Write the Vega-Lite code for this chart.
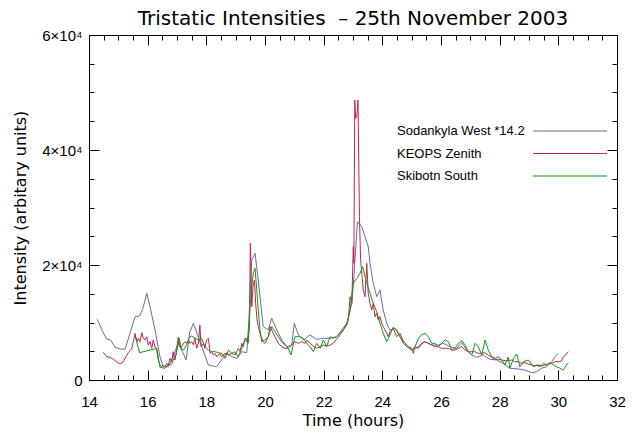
{
"$schema":"https://vega.github.io/schema/vega-lite/v6.json",
"width":528,"height":345,
"autosize":{"type":"none"},
"padding":{"left":89,"top":35,"right":15,"bottom":55},
"background":"white",
"title":{"text":"Tristatic Intensities \u00a0– 25th November 2003","font":"DejaVu Sans","fontSize":20,"fontWeight":"normal","color":"black","anchor":"middle","offset":-1},
"config":{
 "view":{"stroke":"black","strokeWidth":1},
 "axis":{"domainColor":"black","domainWidth":1,"tickColor":"black","tickWidth":1,"labelColor":"black","titleColor":"black","labelFont":"Liberation Sans","titleFont":"DejaVu Sans","labelFontSize":15,"titleFontSize":16,"titleFontWeight":"normal","grid":false,"labelOverlap":false,"labelFlush":false,"labelBound":false}
},
"data":{"values":[
{"s":"Sodankyla West *14.2","t":14.28,"v":10560},{"s":"Sodankyla West *14.2","t":14.47,"v":8400},{"s":"Sodankyla West *14.2","t":14.6,"v":7130},{"s":"Sodankyla West *14.2","t":14.74,"v":6960},{"s":"Sodankyla West *14.2","t":14.89,"v":5690},{"s":"Sodankyla West *14.2","t":15.06,"v":5390},{"s":"Sodankyla West *14.2","t":15.23,"v":5340},{"s":"Sodankyla West *14.2","t":15.4,"v":8170},{"s":"Sodankyla West *14.2","t":15.57,"v":11010},{"s":"Sodankyla West *14.2","t":15.72,"v":11130},{"s":"Sodankyla West *14.2","t":15.83,"v":12300},{"s":"Sodankyla West *14.2","t":15.97,"v":15080},{"s":"Sodankyla West *14.2","t":16.08,"v":12750},{"s":"Sodankyla West *14.2","t":16.25,"v":8700},{"s":"Sodankyla West *14.2","t":16.42,"v":4050},{"s":"Sodankyla West *14.2","t":16.53,"v":2310},{"s":"Sodankyla West *14.2","t":16.7,"v":2310},{"s":"Sodankyla West *14.2","t":16.87,"v":4050},{"s":"Sodankyla West *14.2","t":17.04,"v":6430},{"s":"Sodankyla West *14.2","t":17.16,"v":5220},{"s":"Sodankyla West *14.2","t":17.31,"v":3480},{"s":"Sodankyla West *14.2","t":17.44,"v":8400},{"s":"Sodankyla West *14.2","t":17.56,"v":9860},{"s":"Sodankyla West *14.2","t":17.76,"v":7000},{"s":"Sodankyla West *14.2","t":18.07,"v":2610},{"s":"Sodankyla West *14.2","t":18.35,"v":2310},{"s":"Sodankyla West *14.2","t":18.52,"v":3480},{"s":"Sodankyla West *14.2","t":18.69,"v":4750},{"s":"Sodankyla West *14.2","t":18.87,"v":4050},{"s":"Sodankyla West *14.2","t":19.04,"v":3770},{"s":"Sodankyla West *14.2","t":19.21,"v":4920},{"s":"Sodankyla West *14.2","t":19.38,"v":4750},{"s":"Sodankyla West *14.2","t":19.45,"v":10430},{"s":"Sodankyla West *14.2","t":19.55,"v":20870},{"s":"Sodankyla West *14.2","t":19.66,"v":22030},{"s":"Sodankyla West *14.2","t":19.77,"v":17390},{"s":"Sodankyla West *14.2","t":19.94,"v":9270},{"s":"Sodankyla West *14.2","t":20.11,"v":8700},{"s":"Sodankyla West *14.2","t":20.23,"v":10730},{"s":"Sodankyla West *14.2","t":20.4,"v":8700},{"s":"Sodankyla West *14.2","t":20.57,"v":6960},{"s":"Sodankyla West *14.2","t":20.74,"v":5790},{"s":"Sodankyla West *14.2","t":20.91,"v":6090},{"s":"Sodankyla West *14.2","t":21.0,"v":9860},{"s":"Sodankyla West *14.2","t":21.14,"v":7830},{"s":"Sodankyla West *14.2","t":21.31,"v":6960},{"s":"Sodankyla West *14.2","t":21.53,"v":7830},{"s":"Sodankyla West *14.2","t":21.76,"v":7080},{"s":"Sodankyla West *14.2","t":21.99,"v":7250},{"s":"Sodankyla West *14.2","t":22.22,"v":7250},{"s":"Sodankyla West *14.2","t":22.44,"v":7530},{"s":"Sodankyla West *14.2","t":22.62,"v":8700},{"s":"Sodankyla West *14.2","t":22.79,"v":9860},{"s":"Sodankyla West *14.2","t":22.96,"v":13340},{"s":"Sodankyla West *14.2","t":23.03,"v":17960},{"s":"Sodankyla West *14.2","t":23.15,"v":27530},{"s":"Sodankyla West *14.2","t":23.3,"v":26660},{"s":"Sodankyla West *14.2","t":23.41,"v":24920},{"s":"Sodankyla West *14.2","t":23.52,"v":23180},{"s":"Sodankyla West *14.2","t":23.58,"v":20290},{"s":"Sodankyla West *14.2","t":23.69,"v":16820},{"s":"Sodankyla West *14.2","t":23.81,"v":14490},{"s":"Sodankyla West *14.2","t":23.92,"v":15650},{"s":"Sodankyla West *14.2","t":24.03,"v":12170},{"s":"Sodankyla West *14.2","t":24.15,"v":9860},{"s":"Sodankyla West *14.2","t":24.26,"v":8700},{"s":"Sodankyla West *14.2","t":24.43,"v":8990},{"s":"Sodankyla West *14.2","t":24.6,"v":7530},{"s":"Sodankyla West *14.2","t":24.83,"v":6090},{"s":"Sodankyla West *14.2","t":25.0,"v":5220},{"s":"Sodankyla West *14.2","t":25.23,"v":5790},{"s":"Sodankyla West *14.2","t":25.45,"v":6660},{"s":"Sodankyla West *14.2","t":25.68,"v":6090},{"s":"Sodankyla West *14.2","t":25.91,"v":6090},{"s":"Sodankyla West *14.2","t":26.08,"v":6380},{"s":"Sodankyla West *14.2","t":26.31,"v":5790},{"s":"Sodankyla West *14.2","t":26.54,"v":5510},{"s":"Sodankyla West *14.2","t":26.71,"v":6490},{"s":"Sodankyla West *14.2","t":26.88,"v":5220},{"s":"Sodankyla West *14.2","t":27.05,"v":4350},{"s":"Sodankyla West *14.2","t":27.22,"v":3950},{"s":"Sodankyla West *14.2","t":27.44,"v":4350},{"s":"Sodankyla West *14.2","t":27.67,"v":3600},{"s":"Sodankyla West *14.2","t":27.9,"v":3480},{"s":"Sodankyla West *14.2","t":28.12,"v":2900},{"s":"Sodankyla West *14.2","t":28.35,"v":2040},{"s":"Sodankyla West *14.2","t":28.64,"v":1910},{"s":"Sodankyla West *14.2","t":28.86,"v":1740},{"s":"Sodankyla West *14.2","t":29.09,"v":1270},{"s":"Sodankyla West *14.2","t":29.26,"v":1440},{"s":"Sodankyla West *14.2","t":29.43,"v":2040},{"s":"Sodankyla West *14.2","t":29.6,"v":2310},{"s":"Sodankyla West *14.2","t":29.77,"v":3180},{"s":"Sodankyla West *14.2","t":29.89,"v":4050},{"s":"Sodankyla West *14.2","t":30.0,"v":4640},
{"s":"KEOPS Zenith","t":14.49,"v":4820},{"s":"KEOPS Zenith","t":14.6,"v":4050},{"s":"KEOPS Zenith","t":14.72,"v":3950},{"s":"KEOPS Zenith","t":14.83,"v":3600},{"s":"KEOPS Zenith","t":14.94,"v":3180},{"s":"KEOPS Zenith","t":15.06,"v":2780},{"s":"KEOPS Zenith","t":15.17,"v":3180},{"s":"KEOPS Zenith","t":15.23,"v":3770},{"s":"KEOPS Zenith","t":15.34,"v":4750},{"s":"KEOPS Zenith","t":15.4,"v":5100},{"s":"KEOPS Zenith","t":15.46,"v":5510},{"s":"KEOPS Zenith","t":15.51,"v":6660},{"s":"KEOPS Zenith","t":15.57,"v":8120},{"s":"KEOPS Zenith","t":15.63,"v":6660},{"s":"KEOPS Zenith","t":15.68,"v":7250},{"s":"KEOPS Zenith","t":15.74,"v":6660},{"s":"KEOPS Zenith","t":15.8,"v":8230},{"s":"KEOPS Zenith","t":15.85,"v":7250},{"s":"KEOPS Zenith","t":15.91,"v":6960},{"s":"KEOPS Zenith","t":15.97,"v":7530},{"s":"KEOPS Zenith","t":16.02,"v":6090},{"s":"KEOPS Zenith","t":16.08,"v":6660},{"s":"KEOPS Zenith","t":16.14,"v":5510},{"s":"KEOPS Zenith","t":16.19,"v":6960},{"s":"KEOPS Zenith","t":16.25,"v":5790},{"s":"KEOPS Zenith","t":16.31,"v":5220},{"s":"KEOPS Zenith","t":16.36,"v":3480},{"s":"KEOPS Zenith","t":16.42,"v":2610},{"s":"KEOPS Zenith","t":16.48,"v":2310},{"s":"KEOPS Zenith","t":16.53,"v":2610},{"s":"KEOPS Zenith","t":16.59,"v":2310},{"s":"KEOPS Zenith","t":16.65,"v":2900},{"s":"KEOPS Zenith","t":16.7,"v":2440},{"s":"KEOPS Zenith","t":16.76,"v":3770},{"s":"KEOPS Zenith","t":16.82,"v":3180},{"s":"KEOPS Zenith","t":16.87,"v":4920},{"s":"KEOPS Zenith","t":16.93,"v":3480},{"s":"KEOPS Zenith","t":16.99,"v":5220},{"s":"KEOPS Zenith","t":17.04,"v":6090},{"s":"KEOPS Zenith","t":17.08,"v":7250},{"s":"KEOPS Zenith","t":17.13,"v":5510},{"s":"KEOPS Zenith","t":17.19,"v":6090},{"s":"KEOPS Zenith","t":17.27,"v":6660},{"s":"KEOPS Zenith","t":17.33,"v":6380},{"s":"KEOPS Zenith","t":17.39,"v":6960},{"s":"KEOPS Zenith","t":17.44,"v":6380},{"s":"KEOPS Zenith","t":17.5,"v":6660},{"s":"KEOPS Zenith","t":17.56,"v":6090},{"s":"KEOPS Zenith","t":17.61,"v":7250},{"s":"KEOPS Zenith","t":17.67,"v":5510},{"s":"KEOPS Zenith","t":17.73,"v":6380},{"s":"KEOPS Zenith","t":17.78,"v":9570},{"s":"KEOPS Zenith","t":17.82,"v":5790},{"s":"KEOPS Zenith","t":17.9,"v":6380},{"s":"KEOPS Zenith","t":17.95,"v":5510},{"s":"KEOPS Zenith","t":18.01,"v":6960},{"s":"KEOPS Zenith","t":18.07,"v":7250},{"s":"KEOPS Zenith","t":18.13,"v":4640},{"s":"KEOPS Zenith","t":18.18,"v":4920},{"s":"KEOPS Zenith","t":18.24,"v":4350},{"s":"KEOPS Zenith","t":18.3,"v":4640},{"s":"KEOPS Zenith","t":18.35,"v":4050},{"s":"KEOPS Zenith","t":18.41,"v":4350},{"s":"KEOPS Zenith","t":18.47,"v":4640},{"s":"KEOPS Zenith","t":18.52,"v":4050},{"s":"KEOPS Zenith","t":18.64,"v":4640},{"s":"KEOPS Zenith","t":18.75,"v":4350},{"s":"KEOPS Zenith","t":18.87,"v":4640},{"s":"KEOPS Zenith","t":18.98,"v":4350},{"s":"KEOPS Zenith","t":19.09,"v":5510},{"s":"KEOPS Zenith","t":19.15,"v":4920},{"s":"KEOPS Zenith","t":19.21,"v":6380},{"s":"KEOPS Zenith","t":19.26,"v":5790},{"s":"KEOPS Zenith","t":19.32,"v":7250},{"s":"KEOPS Zenith","t":19.38,"v":6660},{"s":"KEOPS Zenith","t":19.43,"v":7530},{"s":"KEOPS Zenith","t":19.47,"v":9270},{"s":"KEOPS Zenith","t":19.5,"v":23770},{"s":"KEOPS Zenith","t":19.55,"v":12750},{"s":"KEOPS Zenith","t":19.59,"v":16230},{"s":"KEOPS Zenith","t":19.64,"v":17390},{"s":"KEOPS Zenith","t":19.68,"v":13340},{"s":"KEOPS Zenith","t":19.73,"v":10430},{"s":"KEOPS Zenith","t":19.77,"v":9270},{"s":"KEOPS Zenith","t":19.83,"v":8120},{"s":"KEOPS Zenith","t":19.89,"v":7250},{"s":"KEOPS Zenith","t":19.94,"v":6660},{"s":"KEOPS Zenith","t":20.0,"v":6380},{"s":"KEOPS Zenith","t":20.06,"v":6960},{"s":"KEOPS Zenith","t":20.11,"v":7530},{"s":"KEOPS Zenith","t":20.17,"v":9270},{"s":"KEOPS Zenith","t":20.23,"v":8700},{"s":"KEOPS Zenith","t":20.28,"v":8120},{"s":"KEOPS Zenith","t":20.34,"v":7530},{"s":"KEOPS Zenith","t":20.4,"v":6960},{"s":"KEOPS Zenith","t":20.45,"v":6380},{"s":"KEOPS Zenith","t":20.51,"v":6090},{"s":"KEOPS Zenith","t":20.57,"v":5790},{"s":"KEOPS Zenith","t":20.68,"v":5510},{"s":"KEOPS Zenith","t":20.79,"v":5510},{"s":"KEOPS Zenith","t":20.91,"v":6090},{"s":"KEOPS Zenith","t":21.02,"v":6660},{"s":"KEOPS Zenith","t":21.14,"v":6380},{"s":"KEOPS Zenith","t":21.25,"v":6660},{"s":"KEOPS Zenith","t":21.36,"v":6380},{"s":"KEOPS Zenith","t":21.42,"v":6960},{"s":"KEOPS Zenith","t":21.53,"v":6380},{"s":"KEOPS Zenith","t":21.65,"v":5910},{"s":"KEOPS Zenith","t":21.76,"v":5510},{"s":"KEOPS Zenith","t":21.88,"v":5790},{"s":"KEOPS Zenith","t":21.99,"v":6090},{"s":"KEOPS Zenith","t":22.1,"v":5910},{"s":"KEOPS Zenith","t":22.22,"v":6090},{"s":"KEOPS Zenith","t":22.33,"v":6380},{"s":"KEOPS Zenith","t":22.44,"v":7080},{"s":"KEOPS Zenith","t":22.56,"v":7830},{"s":"KEOPS Zenith","t":22.67,"v":8700},{"s":"KEOPS Zenith","t":22.79,"v":9860},{"s":"KEOPS Zenith","t":22.84,"v":10430},{"s":"KEOPS Zenith","t":22.9,"v":14490},{"s":"KEOPS Zenith","t":22.96,"v":13340},{"s":"KEOPS Zenith","t":23.01,"v":23180},{"s":"KEOPS Zenith","t":23.03,"v":20290},{"s":"KEOPS Zenith","t":23.06,"v":48690},{"s":"KEOPS Zenith","t":23.09,"v":45510},{"s":"KEOPS Zenith","t":23.13,"v":45790},{"s":"KEOPS Zenith","t":23.17,"v":48690},{"s":"KEOPS Zenith","t":23.22,"v":28400},{"s":"KEOPS Zenith","t":23.26,"v":20870},{"s":"KEOPS Zenith","t":23.31,"v":17960},{"s":"KEOPS Zenith","t":23.35,"v":15650},{"s":"KEOPS Zenith","t":23.41,"v":14490},{"s":"KEOPS Zenith","t":23.47,"v":20290},{"s":"KEOPS Zenith","t":23.52,"v":15080},{"s":"KEOPS Zenith","t":23.58,"v":13340},{"s":"KEOPS Zenith","t":23.64,"v":12170},{"s":"KEOPS Zenith","t":23.69,"v":13340},{"s":"KEOPS Zenith","t":23.75,"v":11010},{"s":"KEOPS Zenith","t":23.81,"v":11600},{"s":"KEOPS Zenith","t":23.86,"v":10430},{"s":"KEOPS Zenith","t":23.92,"v":11010},{"s":"KEOPS Zenith","t":23.98,"v":9860},{"s":"KEOPS Zenith","t":24.03,"v":9270},{"s":"KEOPS Zenith","t":24.09,"v":8700},{"s":"KEOPS Zenith","t":24.15,"v":8120},{"s":"KEOPS Zenith","t":24.2,"v":7530},{"s":"KEOPS Zenith","t":24.26,"v":8400},{"s":"KEOPS Zenith","t":24.37,"v":8990},{"s":"KEOPS Zenith","t":24.49,"v":7530},{"s":"KEOPS Zenith","t":24.6,"v":8120},{"s":"KEOPS Zenith","t":24.72,"v":6660},{"s":"KEOPS Zenith","t":24.83,"v":6090},{"s":"KEOPS Zenith","t":24.89,"v":5790},{"s":"KEOPS Zenith","t":25.0,"v":5510},{"s":"KEOPS Zenith","t":25.06,"v":4640},{"s":"KEOPS Zenith","t":25.11,"v":5790},{"s":"KEOPS Zenith","t":25.23,"v":5510},{"s":"KEOPS Zenith","t":25.34,"v":6380},{"s":"KEOPS Zenith","t":25.45,"v":6660},{"s":"KEOPS Zenith","t":25.57,"v":6380},{"s":"KEOPS Zenith","t":25.68,"v":6090},{"s":"KEOPS Zenith","t":25.8,"v":5790},{"s":"KEOPS Zenith","t":25.91,"v":5790},{"s":"KEOPS Zenith","t":26.02,"v":5510},{"s":"KEOPS Zenith","t":26.14,"v":5510},{"s":"KEOPS Zenith","t":26.25,"v":5510},{"s":"KEOPS Zenith","t":26.37,"v":5220},{"s":"KEOPS Zenith","t":26.48,"v":5220},{"s":"KEOPS Zenith","t":26.59,"v":5510},{"s":"KEOPS Zenith","t":26.71,"v":5790},{"s":"KEOPS Zenith","t":26.82,"v":5220},{"s":"KEOPS Zenith","t":26.93,"v":4920},{"s":"KEOPS Zenith","t":27.05,"v":4920},{"s":"KEOPS Zenith","t":27.16,"v":4920},{"s":"KEOPS Zenith","t":27.27,"v":4640},{"s":"KEOPS Zenith","t":27.39,"v":4640},{"s":"KEOPS Zenith","t":27.5,"v":4750},{"s":"KEOPS Zenith","t":27.61,"v":4350},{"s":"KEOPS Zenith","t":27.73,"v":3950},{"s":"KEOPS Zenith","t":27.84,"v":3600},{"s":"KEOPS Zenith","t":27.95,"v":3600},{"s":"KEOPS Zenith","t":28.07,"v":3480},{"s":"KEOPS Zenith","t":28.18,"v":3360},{"s":"KEOPS Zenith","t":28.29,"v":3360},{"s":"KEOPS Zenith","t":28.41,"v":3480},{"s":"KEOPS Zenith","t":28.52,"v":3180},{"s":"KEOPS Zenith","t":28.64,"v":3180},{"s":"KEOPS Zenith","t":28.75,"v":2900},{"s":"KEOPS Zenith","t":28.86,"v":3010},{"s":"KEOPS Zenith","t":28.98,"v":2780},{"s":"KEOPS Zenith","t":29.09,"v":2610},{"s":"KEOPS Zenith","t":29.2,"v":2440},{"s":"KEOPS Zenith","t":29.32,"v":2610},{"s":"KEOPS Zenith","t":29.43,"v":2440},{"s":"KEOPS Zenith","t":29.55,"v":2610},{"s":"KEOPS Zenith","t":29.66,"v":2780},{"s":"KEOPS Zenith","t":29.77,"v":2900},{"s":"KEOPS Zenith","t":29.89,"v":3180},{"s":"KEOPS Zenith","t":30.0,"v":3180},{"s":"KEOPS Zenith","t":30.11,"v":3300},{"s":"KEOPS Zenith","t":30.17,"v":4050},{"s":"KEOPS Zenith","t":30.25,"v":4350},{"s":"KEOPS Zenith","t":30.34,"v":4920},
{"s":"Skibotn South","t":15.57,"v":7830},{"s":"Skibotn South","t":15.72,"v":4750},{"s":"Skibotn South","t":16.19,"v":5340},{"s":"Skibotn South","t":16.31,"v":5510},{"s":"Skibotn South","t":16.42,"v":2210},{"s":"Skibotn South","t":16.59,"v":2040},{"s":"Skibotn South","t":16.7,"v":2610},{"s":"Skibotn South","t":16.82,"v":2780},{"s":"Skibotn South","t":16.87,"v":3480},{"s":"Skibotn South","t":16.97,"v":4350},{"s":"Skibotn South","t":17.04,"v":7430},{"s":"Skibotn South","t":17.13,"v":5510},{"s":"Skibotn South","t":17.22,"v":5220},{"s":"Skibotn South","t":17.33,"v":6090},{"s":"Skibotn South","t":17.42,"v":7430},{"s":"Skibotn South","t":17.5,"v":7650},{"s":"Skibotn South","t":17.61,"v":7250},{"s":"Skibotn South","t":17.73,"v":6960},{"s":"Skibotn South","t":17.84,"v":7250},{"s":"Skibotn South","t":17.95,"v":5790},{"s":"Skibotn South","t":18.07,"v":5220},{"s":"Skibotn South","t":18.18,"v":4920},{"s":"Skibotn South","t":18.3,"v":4920},{"s":"Skibotn South","t":18.41,"v":4750},{"s":"Skibotn South","t":18.52,"v":4640},{"s":"Skibotn South","t":18.64,"v":3770},{"s":"Skibotn South","t":18.75,"v":5220},{"s":"Skibotn South","t":18.87,"v":4640},{"s":"Skibotn South","t":18.98,"v":4920},{"s":"Skibotn South","t":19.09,"v":4050},{"s":"Skibotn South","t":19.21,"v":5510},{"s":"Skibotn South","t":19.32,"v":6960},{"s":"Skibotn South","t":19.38,"v":7250},{"s":"Skibotn South","t":19.43,"v":6380},{"s":"Skibotn South","t":19.49,"v":12750},{"s":"Skibotn South","t":19.55,"v":16230},{"s":"Skibotn South","t":19.6,"v":18560},{"s":"Skibotn South","t":19.66,"v":19430},{"s":"Skibotn South","t":19.72,"v":15650},{"s":"Skibotn South","t":19.77,"v":12170},{"s":"Skibotn South","t":19.83,"v":8700},{"s":"Skibotn South","t":19.89,"v":6660},{"s":"Skibotn South","t":20.0,"v":6960},{"s":"Skibotn South","t":20.11,"v":7530},{"s":"Skibotn South","t":20.23,"v":9270},{"s":"Skibotn South","t":20.34,"v":8400},{"s":"Skibotn South","t":20.45,"v":7530},{"s":"Skibotn South","t":20.57,"v":6660},{"s":"Skibotn South","t":20.68,"v":6090},{"s":"Skibotn South","t":20.79,"v":5510},{"s":"Skibotn South","t":20.89,"v":4350},{"s":"Skibotn South","t":20.96,"v":6090},{"s":"Skibotn South","t":21.02,"v":7530},{"s":"Skibotn South","t":21.19,"v":7530},{"s":"Skibotn South","t":21.31,"v":7250},{"s":"Skibotn South","t":21.42,"v":6380},{"s":"Skibotn South","t":21.53,"v":5790},{"s":"Skibotn South","t":21.65,"v":4920},{"s":"Skibotn South","t":21.76,"v":6380},{"s":"Skibotn South","t":21.88,"v":5510},{"s":"Skibotn South","t":21.99,"v":6960},{"s":"Skibotn South","t":22.1,"v":5790},{"s":"Skibotn South","t":22.22,"v":7530},{"s":"Skibotn South","t":22.33,"v":7250},{"s":"Skibotn South","t":22.44,"v":7530},{"s":"Skibotn South","t":22.56,"v":8120},{"s":"Skibotn South","t":22.67,"v":8700},{"s":"Skibotn South","t":22.79,"v":9570},{"s":"Skibotn South","t":22.9,"v":12170},{"s":"Skibotn South","t":23.01,"v":16820},{"s":"Skibotn South","t":23.13,"v":17690},{"s":"Skibotn South","t":23.24,"v":18560},{"s":"Skibotn South","t":23.33,"v":19700},{"s":"Skibotn South","t":23.41,"v":17960},{"s":"Skibotn South","t":23.47,"v":16820},{"s":"Skibotn South","t":23.58,"v":15080},{"s":"Skibotn South","t":23.69,"v":13340},{"s":"Skibotn South","t":23.81,"v":11880},{"s":"Skibotn South","t":23.92,"v":9860},{"s":"Skibotn South","t":24.03,"v":8120},{"s":"Skibotn South","t":24.15,"v":6660},{"s":"Skibotn South","t":24.26,"v":7830},{"s":"Skibotn South","t":24.37,"v":9160},{"s":"Skibotn South","t":24.49,"v":8700},{"s":"Skibotn South","t":24.6,"v":7530},{"s":"Skibotn South","t":24.72,"v":6380},{"s":"Skibotn South","t":24.83,"v":5790},{"s":"Skibotn South","t":25.0,"v":5220},{"s":"Skibotn South","t":25.11,"v":5790},{"s":"Skibotn South","t":25.23,"v":7250},{"s":"Skibotn South","t":25.34,"v":7830},{"s":"Skibotn South","t":25.45,"v":8120},{"s":"Skibotn South","t":25.57,"v":7530},{"s":"Skibotn South","t":25.68,"v":6380},{"s":"Skibotn South","t":25.8,"v":6380},{"s":"Skibotn South","t":25.91,"v":5790},{"s":"Skibotn South","t":26.02,"v":6380},{"s":"Skibotn South","t":26.14,"v":6960},{"s":"Skibotn South","t":26.25,"v":6660},{"s":"Skibotn South","t":26.37,"v":5220},{"s":"Skibotn South","t":26.48,"v":5510},{"s":"Skibotn South","t":26.59,"v":6380},{"s":"Skibotn South","t":26.71,"v":6830},{"s":"Skibotn South","t":26.82,"v":6090},{"s":"Skibotn South","t":26.93,"v":4920},{"s":"Skibotn South","t":27.05,"v":4350},{"s":"Skibotn South","t":27.16,"v":6380},{"s":"Skibotn South","t":27.27,"v":5790},{"s":"Skibotn South","t":27.39,"v":4350},{"s":"Skibotn South","t":27.5,"v":6960},{"s":"Skibotn South","t":27.61,"v":5220},{"s":"Skibotn South","t":27.73,"v":4050},{"s":"Skibotn South","t":27.84,"v":3770},{"s":"Skibotn South","t":27.95,"v":4050},{"s":"Skibotn South","t":28.07,"v":3480},{"s":"Skibotn South","t":28.18,"v":2610},{"s":"Skibotn South","t":28.29,"v":4000},{"s":"Skibotn South","t":28.35,"v":2040},{"s":"Skibotn South","t":28.47,"v":3770},{"s":"Skibotn South","t":28.58,"v":4520},{"s":"Skibotn South","t":28.69,"v":2310},{"s":"Skibotn South","t":28.81,"v":3180},{"s":"Skibotn South","t":28.98,"v":3480},{"s":"Skibotn South","t":29.15,"v":2310},{"s":"Skibotn South","t":29.26,"v":2610},{"s":"Skibotn South","t":29.38,"v":2310},{"s":"Skibotn South","t":29.49,"v":2900},{"s":"Skibotn South","t":29.6,"v":2610},{"s":"Skibotn South","t":29.72,"v":3010},{"s":"Skibotn South","t":29.83,"v":2610},{"s":"Skibotn South","t":29.94,"v":2310},{"s":"Skibotn South","t":30.06,"v":2040},{"s":"Skibotn South","t":30.17,"v":1740},{"s":"Skibotn South","t":30.28,"v":2610},{"s":"Skibotn South","t":30.34,"v":3010}
]},
"resolve":{"axis":{"x":"independent","y":"independent"}},
"layer":[
{"mark":{"type":"line","strokeWidth":1},
"encoding":{
 "x":{"field":"t","type":"quantitative","scale":{"domain":[14,32],"nice":false,"zero":false},
  "axis":{"orient":"bottom","values":[14,16,18,20,22,24,26,28,30,32],"tickSize":-10,"labelPadding":24,"title":"Time (hours)","titlePadding":3}},
 "y":{"field":"v","type":"quantitative","scale":{"domain":[0,60000],"nice":false},
  "axis":{"orient":"left","values":[0,20000,40000,60000],"tickSize":-10,
   "labelExpr":"datum.value === 0 ? '0' : format(datum.value/10000,'d') + '×10⁴'","labelPadding":17,"title":"Intensity (arbitary units)","titlePadding":13}},
 "color":{"field":"s","type":"nominal",
  "scale":{"domain":["Sodankyla West *14.2","KEOPS Zenith","Skibotn South"],"range":["#6a6aa6","#c4244c","#119911"]},
  "legend":{"orient":"none","legendX":308,"legendY":88,"title":null,"symbolType":"M-5,0H5","symbolSize":219,"symbolStrokeWidth":1,"symbolOffset":165,"labelOffset":-181,"labelFont":"Liberation Sans","labelFontSize":13,"labelColor":"black","labelLimit":300,"rowPadding":7.5,"padding":0}}
}},
{"mark":{"type":"line","strokeWidth":1,"opacity":0},
"encoding":{
 "x":{"field":"t","type":"quantitative",
  "axis":{"orient":"top","values":[14,16,18,20,22,24,26,28,30,32],"tickSize":-10,"labels":false,"title":null}},
 "y":{"field":"v","type":"quantitative",
  "axis":{"orient":"right","values":[0,20000,40000,60000],"tickSize":-10,"labels":false,"title":null}},
 "detail":{"field":"s"}
}},
{"mark":{"type":"line","strokeWidth":1,"opacity":0},
"encoding":{
 "x":{"field":"t","type":"quantitative",
  "axis":{"orient":"bottom","values":[14.5,15,15.5,16.5,17,17.5,18.5,19,19.5,20.5,21,21.5,22.5,23,23.5,24.5,25,25.5,26.5,27,27.5,28.5,29,29.5,30.5,31,31.5],"tickSize":-5,"labels":false,"title":null}},
 "y":{"field":"v","type":"quantitative",
  "axis":{"orient":"left","values":[5000,10000,15000,25000,30000,35000,45000,50000,55000],"tickSize":-5,"labels":false,"title":null}},
 "detail":{"field":"s"}
}},
{"mark":{"type":"line","strokeWidth":1,"opacity":0},
"encoding":{
 "x":{"field":"t","type":"quantitative",
  "axis":{"orient":"top","values":[14.5,15,15.5,16.5,17,17.5,18.5,19,19.5,20.5,21,21.5,22.5,23,23.5,24.5,25,25.5,26.5,27,27.5,28.5,29,29.5,30.5,31,31.5],"tickSize":-5,"labels":false,"title":null}},
 "y":{"field":"v","type":"quantitative",
  "axis":{"orient":"right","values":[5000,10000,15000,25000,30000,35000,45000,50000,55000],"tickSize":-5,"labels":false,"title":null}},
 "detail":{"field":"s"}
}}
]
}
